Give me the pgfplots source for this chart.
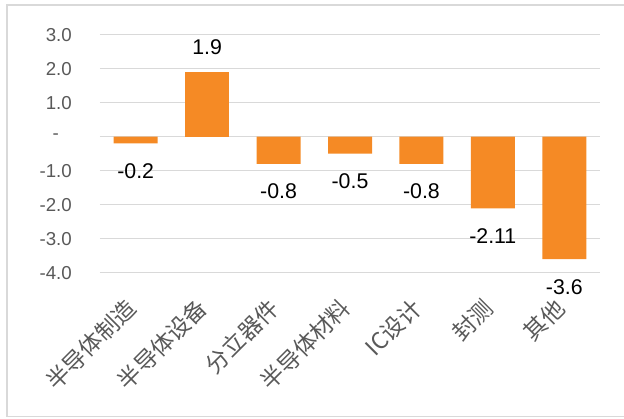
\documentclass[border=0pt]{standalone}
\usepackage{pgfplots}
\pgfplotsset{compat=1.18}
\usepackage{fontspec}
\setmainfont{Liberation Sans}
\newfontfamily\cjk{Noto Sans CJK SC}

\definecolor{barorange}{HTML}{F58A25}
\definecolor{tickgray}{HTML}{595959}
\definecolor{gridgray}{HTML}{D9D9D9}

\begin{document}
\begin{tikzpicture}[x=1bp,y=1bp]
\begin{axis}[
  scale only axis,
  width=500bp, height=238bp,
  xmin=-0.5, xmax=6.5,
  ymin=-4, ymax=3,
  ybar, bar width=44bp, bar shift=0pt,
  axis line style={draw=none},
  major tick length=0pt,
  ymajorgrids,
  grid style={gridgray, line width=1.2bp},
  xtick={0,...,6},
  xticklabels={半导体制造,半导体设备,分立器件,半导体材料,IC设计,封测,其他},
  xticklabel style={font=\cjk\fontsize{23bp}{26bp}\selectfont, text=tickgray,
    inner sep=0pt, xshift=-4bp, yshift=-31bp, rotate=45, anchor=east},
  ytick={-4,-3,-2,-1,0,1,2,3},
  yticklabels={-4.0,-3.0,-2.0,-1.0,{-\kern13bp},1.0,2.0,3.0},
  yticklabel style={font=\fontsize{18.7bp}{22bp}\selectfont, text=tickgray,
    anchor=east, inner sep=0pt, xshift=-28bp},
  point meta=explicit symbolic,
  nodes near coords,
  nodes near coords style={font=\fontsize{21.3bp}{24bp}\selectfont, text=black,
    inner xsep=0pt},
]
\coordinate (sw) at (rel axis cs:0,0);
% rising sector
\addplot[fill=barorange, draw=none,
  nodes near coords style={anchor=south, inner ysep=17bp}] coordinates {
  (1,1.9)   [1.9]
};
% falling sectors
\addplot[fill=barorange, draw=none,
  nodes near coords style={anchor=north, inner ysep=20bp}] coordinates {
  (0,-0.2)  [-0.2]
  (2,-0.8)  [-0.8]
  (3,-0.5)  [-0.5]
  (4,-0.8)  [-0.8]
  (5,-2.11) [-2.11]
  (6,-3.6)  [-3.6]
};
\end{axis}
\path (sw) ++(-100,-145.4) coordinate (bl);
\pgfresetboundingbox
\useasboundingbox (bl) rectangle ++(624,418);
% outer frame, open on the right
\draw[gridgray, line width=1.3bp] ([shift={(630,413)}]bl) -- ([shift={(7,413)}]bl)
  -- ([shift={(7,1.5)}]bl) -- ([shift={(630,1.5)}]bl);
\end{tikzpicture}
\end{document}
